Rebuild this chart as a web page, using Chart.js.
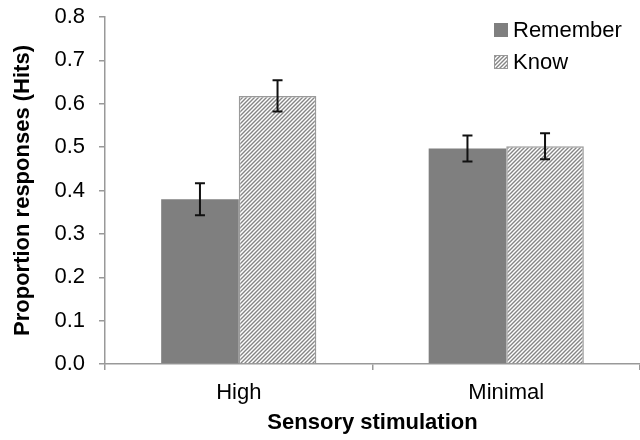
<!DOCTYPE html>
<html>
<head>
<meta charset="utf-8">
<script src="https://cdn.jsdelivr.net/npm/chart.js@4/dist/chart.umd.min.js"></script>
<style>
    html, body { margin: 0; padding: 0; background: #fff; }
    #box { width: 640px; height: 440px; }
</style>
</head>
<body>
<div id="box"><canvas id="grafico"></canvas></div>
<script>
// dados
const categorias = ['High', 'Minimal'];
const nomesSeries = ['Remember', 'Know'];
const valoresRemember = [0.380, 0.497];
const valoresKnow = [0.618, 0.502];
const erroRemember = [0.037, 0.030];
const erroKnow = [0.036, 0.030];

const fonte = '"Liberation Sans", Arial, sans-serif';

// padrão hachurado (linhas diagonais)
function criarHachura() {
    const c = document.createElement('canvas');
    c.width = 4;
    c.height = 4;
    const g = c.getContext('2d');
    g.fillStyle = '#fff';
    g.fillRect(0, 0, 4, 4);
    g.strokeStyle = '#858585';
    g.lineWidth = 1.4;
    g.beginPath();
    g.moveTo(-1, 5); g.lineTo(5, -1);
    g.moveTo(-1, 1); g.lineTo(1, -1);
    g.moveTo(3, 5); g.lineTo(5, 3);
    g.stroke();
    return g.createPattern(c, 'repeat');
}
const hachura = criarHachura();

// barras de erro
const pluginErro = {
    id: 'barrasErro',
    afterDatasetsDraw(chart) {
        const ctx = chart.ctx;
        const y = chart.scales.y;
        const erros = [erroRemember, erroKnow];
        ctx.save();
        ctx.strokeStyle = '#111';
        ctx.lineWidth = 2;
        chart.data.datasets.forEach((ds, i) => {
            const meta = chart.getDatasetMeta(i);
            meta.data.forEach((bar, j) => {
                const v = ds.data[j];
                const e = erros[i][j];
                const yTop = y.getPixelForValue(v + e);
                const yBot = y.getPixelForValue(v - e);
                ctx.beginPath();
                ctx.moveTo(bar.x, yTop); ctx.lineTo(bar.x, yBot);
                ctx.moveTo(bar.x - 5, yTop); ctx.lineTo(bar.x + 5, yTop);
                ctx.moveTo(bar.x - 5, yBot); ctx.lineTo(bar.x + 5, yBot);
                ctx.stroke();
            });
        });
        ctx.restore();
    }
};

// legenda desenhada dentro da área do gráfico
const pluginLegenda = {
    id: 'legendaDentro',
    afterDraw(chart) {
        const ctx = chart.ctx;
        ctx.save();
        ctx.font = '22px ' + fonte;
        ctx.textBaseline = 'middle';
        ctx.fillStyle = '#000';
        chart.data.datasets.forEach((ds, i) => {
            const cy = 30 + i * 32;
            ctx.fillStyle = ds.backgroundColor;
            ctx.fillRect(494, cy - 7, 14, 14);
            if (i === 1) {
                ctx.strokeStyle = '#999';
                ctx.lineWidth = 1;
                ctx.strokeRect(494.5, cy - 6.5, 13, 13);
            }
            ctx.fillStyle = '#000';
            ctx.fillText(ds.label, 513, cy + 1);
        });
        ctx.restore();
    }
};

new Chart(document.getElementById('grafico'), {
    type: 'bar',
    data: {
        labels: categorias,
        datasets: [{
            label: nomesSeries[0],
            data: valoresRemember,
            backgroundColor: '#7f7f7f',
            borderWidth: 0,
            categoryPercentage: 0.58,
            barPercentage: 1.0
        }, {
            label: nomesSeries[1],
            data: valoresKnow,
            backgroundColor: hachura,
            borderColor: '#9a9a9a',
            borderWidth: 1.5,
            categoryPercentage: 0.58,
            barPercentage: 1.0
        }]
    },
    options: {
        responsive: true,
        maintainAspectRatio: false,
        animation: false,
        layout: { padding: { top: 17, right: 0, left: 0, bottom: 0 } },
        plugins: {
            legend: { display: false },
            tooltip: { enabled: false }
        },
        scales: {
            x: {
                afterFit(scale) {
                    scale.height = 76;
                    scale.paddingLeft = 0;
                    scale.paddingRight = 0;
                },
                border: { color: '#999', width: 1.5 },
                grid: {
                    offset: true,
                    drawOnChartArea: false,
                    tickLength: 6,
                    color: '#999',
                    lineWidth: 1.5
                },
                ticks: {
                    padding: 10,
                    color: '#000',
                    font: { family: fonte, size: 22 }
                },
                title: {
                    display: true,
                    text: 'Sensory stimulation',
                    color: '#000',
                    font: { family: fonte, size: 22, weight: 'bold' },
                    padding: { top: 0, bottom: 4 }
                }
            },
            y: {
                min: 0,
                max: 0.8,
                afterFit(scale) {
                    scale.width = 105;
                    scale.paddingTop = 0;
                    scale.paddingBottom = 0;
                },
                border: { color: '#999', width: 1.5 },
                grid: {
                    drawOnChartArea: false,
                    tickLength: 6,
                    color: '#999',
                    lineWidth: 1.5
                },
                ticks: {
                    stepSize: 0.1,
                    padding: 14,
                    color: '#000',
                    font: { family: fonte, size: 22 },
                    callback: v => v.toFixed(1)
                },
                title: {
                    display: true,
                    text: 'Proportion responses (Hits)',
                    color: '#000',
                    font: { family: fonte, size: 22, weight: 'bold' },
                    padding: { top: 10, bottom: 0 }
                }
            }
        }
    },
    plugins: [pluginErro, pluginLegenda]
});
</script>
</body>
</html>
